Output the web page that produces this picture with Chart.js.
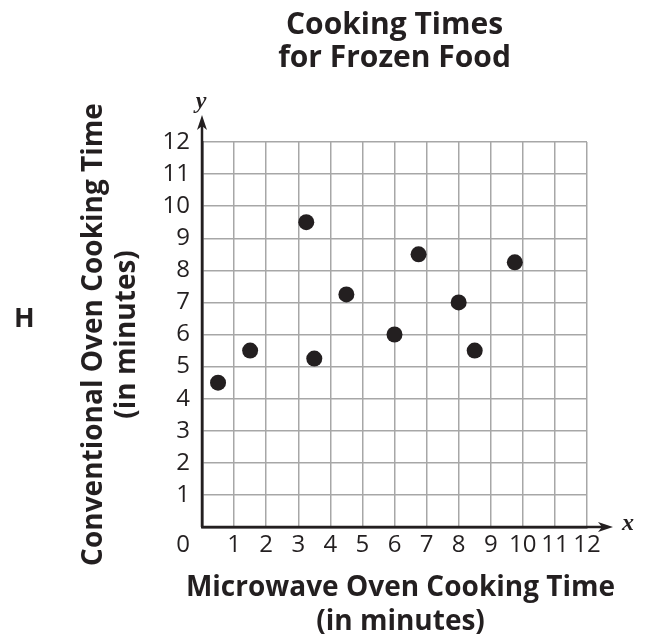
<!DOCTYPE html>
<html>
<head>
<meta charset="utf-8">
<script src="https://cdn.jsdelivr.net/npm/chart.js@4.4.1/dist/chart.umd.min.js"></script>
<style>
  html, body { margin: 0; padding: 0; background: #fff; }
  #wrap { position: relative; width: 645px; height: 642px; }
  #choice { position: absolute; left: 14px; top: 301px; font: bold 27px "Open Sans"; line-height: 32px; color: #231f20; }
</style>
</head>
<body>
<div id="wrap">
  <canvas id="cookingChart" width="645" height="642"></canvas>
  <div id="choice">H</div>
</div>
<script>
const microwaveTimes = [0.5, 1.5, 3.25, 3.5, 4.5, 6, 6.75, 8, 8.5, 9.75];
const ovenTimes = [4.5, 5.5, 9.5, 5.25, 7.25, 6, 8.5, 7, 5.5, 8.25];
const axisMin = 0;
const axisMax = 12;
const chartTitle = ['Cooking Times', 'for Frozen Food'];
const xTitle = ['Microwave Oven Cooking Time', '(in minutes)'];
const yTitle = ['Conventional Oven Cooking Time', '(in minutes)'];

const ink = '#231f20';
const gridGray = '#a7a7a7';

// arrows at the ends of the axes, the axis letters, the shared "0"
// and the x title (wider than the plot, so chart.js would squeeze it)
const axisExtras = {
    id: 'axisExtras',
    afterDraw(chart) {
        const { ctx, scales: { x, y } } = chart;
        const x0 = x.getPixelForValue(axisMin);
        const y0 = y.getPixelForValue(axisMin);
        const xTip = x.getPixelForValue(axisMax) + 26;
        const yTip = y.getPixelForValue(axisMax) - 27;
        ctx.save();
        ctx.strokeStyle = ink;
        ctx.fillStyle = ink;
        ctx.lineWidth = 2.5;

        ctx.beginPath();
        ctx.moveTo(x0, y0);
        ctx.lineTo(x0, yTip + 8);
        ctx.moveTo(x0, y0);
        ctx.lineTo(xTip - 8, y0);
        ctx.stroke();

        ctx.beginPath();
        ctx.moveTo(x0, yTip);
        ctx.lineTo(x0 - 5, yTip + 15);
        ctx.lineTo(x0, yTip + 11);
        ctx.lineTo(x0 + 5, yTip + 15);
        ctx.closePath();
        ctx.fill();

        ctx.beginPath();
        ctx.moveTo(xTip, y0);
        ctx.lineTo(xTip - 15, y0 - 5);
        ctx.lineTo(xTip - 11, y0);
        ctx.lineTo(xTip - 15, y0 + 5);
        ctx.closePath();
        ctx.fill();

        ctx.font = 'italic bold 24px "Liberation Serif"';
        ctx.textAlign = 'center';
        ctx.textBaseline = 'middle';
        ctx.fillText('y', x0 - 1, yTip - 13);
        ctx.fillText('x', xTip + 15, y0 - 3);

        ctx.font = '24px "Open Sans"';
        ctx.textAlign = 'right';
        ctx.fillText('0', y.right - 12, y0 + 18);

        ctx.font = 'bold 28px "Open Sans"';
        ctx.textAlign = 'center';
        const cx = (x.left + x.right) / 2 + 6;
        xTitle.forEach((line, i) => ctx.fillText(line, cx, y0 + 61 + i * 34));
        ctx.restore();
    }
};

document.addEventListener('DOMContentLoaded', () => {
    const ctx = document.getElementById('cookingChart').getContext('2d');
    const points = microwaveTimes.map((m, i) => ({ x: m, y: ovenTimes[i] }));

    const tickFont = { family: 'Open Sans', size: 24 };

    const config = {
        type: 'scatter',
        data: {
            datasets: [{
                data: points,
                backgroundColor: ink,
                borderWidth: 0,
                pointRadius: 8,
                pointHoverRadius: 8,
            }]
        },
        options: {
            responsive: false,
            animation: false,
            layout: { padding: { left: 0, right: 58, top: 0, bottom: 0 } },
            plugins: {
                legend: { display: false },
                tooltip: { enabled: false },
                title: {
                    display: true,
                    text: chartTitle,
                    fullSize: false,
                    color: ink,
                    font: { family: 'Open Sans', size: 30, weight: 'bold', lineHeight: 1.1 },
                    padding: { top: 9, bottom: 67 }
                }
            },
            scales: {
                x: {
                    type: 'linear',
                    min: axisMin,
                    max: axisMax,
                    afterFit: s => { s.height = 115; },
                    ticks: {
                        stepSize: 1,
                        color: ink,
                        font: tickFont,
                        padding: 4,
                        maxRotation: 0,
                        autoSkip: false,
                        callback: v => (v === axisMin ? '' : v)
                    },
                    grid: { color: gridGray, lineWidth: 1.5, drawTicks: false },
                    border: { color: ink, width: 2.5 },
                    title: { display: false }
                },
                y: {
                    type: 'linear',
                    min: axisMin,
                    max: axisMax,
                    afterFit: s => { s.width = 202; },
                    ticks: {
                        stepSize: 1,
                        color: ink,
                        font: tickFont,
                        padding: 12,
                        autoSkip: false,
                        callback: v => (v === axisMin ? '' : v)
                    },
                    grid: { color: gridGray, lineWidth: 1.5, drawTicks: false },
                    border: { color: ink, width: 2.5 },
                    title: {
                        display: true, text: yTitle, color: ink,
                        font: { family: 'Open Sans', size: 28, weight: 'bold', lineHeight: 1.2 },
                        padding: { top: 77, bottom: 0 }
                    }
                }
            }
        },
        plugins: [axisExtras]
    };

    new Chart(ctx, config);
});
</script>
</body>
</html>
